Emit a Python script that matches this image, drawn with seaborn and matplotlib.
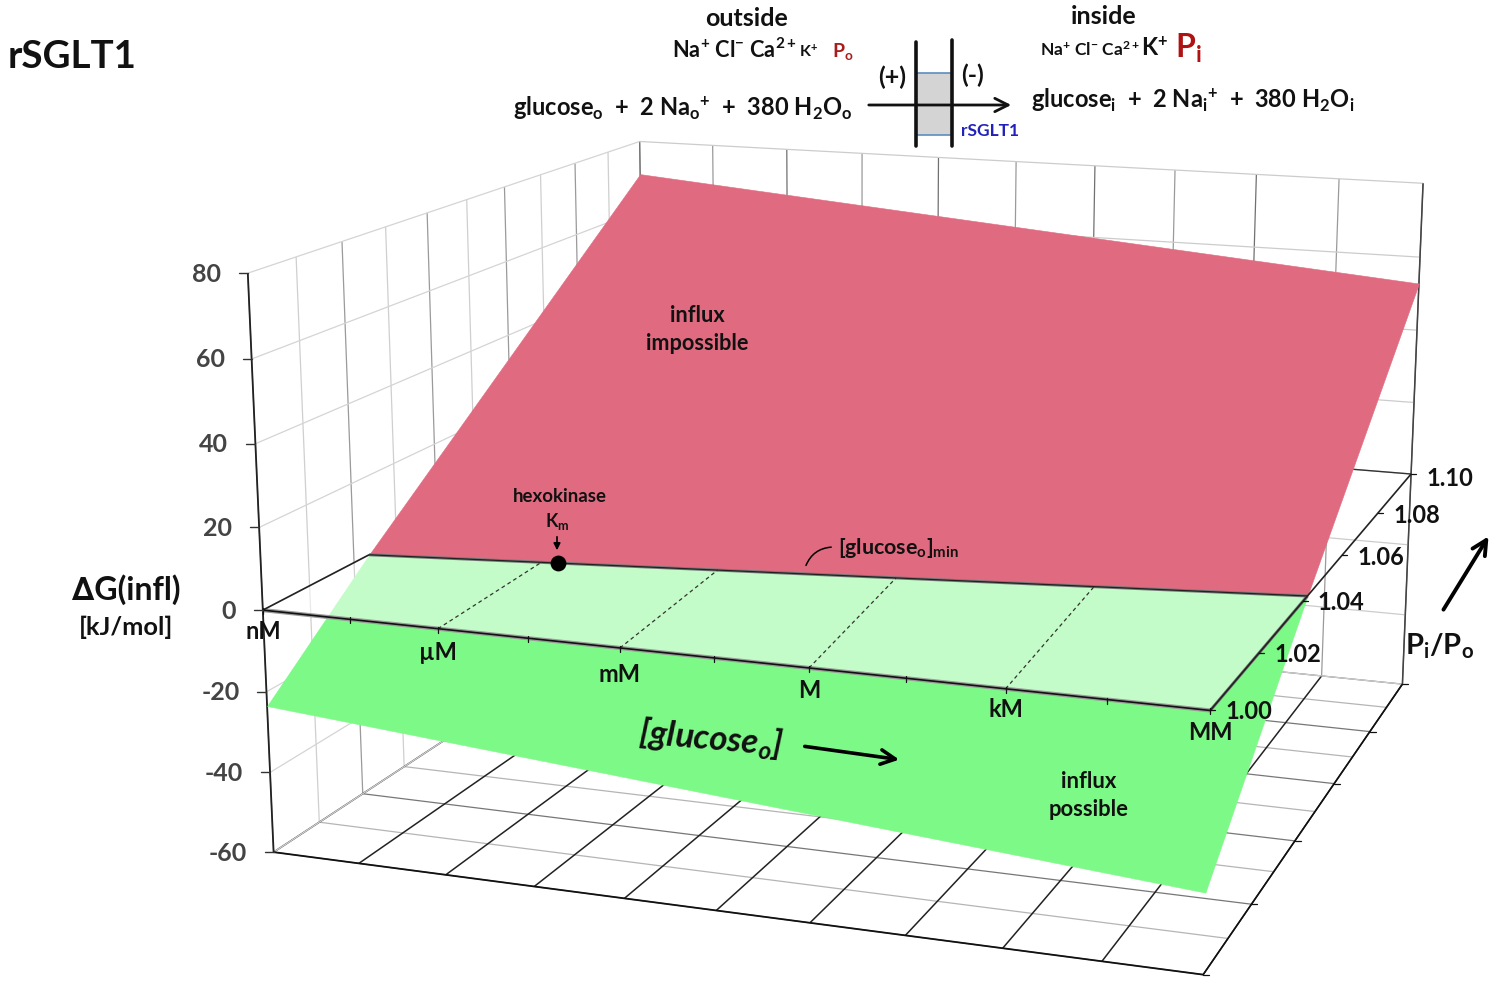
import numpy as np
import matplotlib
matplotlib.use("Agg")
import matplotlib.pyplot as plt
import seaborn as sns
from matplotlib.patches import FancyArrowPatch, Rectangle
from mpl_toolkits.mplot3d import proj3d

# ---- chart values
glucose_log = [-9.0, 6.0]
ratio_edges = [1.00, 1.10]
dG_low_ratio = [-23.5, -41.1]
dG_high_ratio = [70.5, 52.8]
ratio_at_zero = [1.0235, 1.0422]
x_grid = [-9, -7.5, -6, -4.5, -3, -1.5, 0, 1.5, 3, 4.5, 6]
y_grid = [1.00, 1.01, 1.02, 1.03, 1.04, 1.05, 1.06, 1.07, 1.08, 1.09, 1.10]
z_grid = [-60, -40, -20, 0, 20, 40, 60, 80]
x_label_pos = [-9, -6, -3, 0, 3, 6]
x_label_txt = ["nM", "µM", "mM", "M", "kM", "MM"]
y_label_pos = [1.00, 1.02, 1.04, 1.06, 1.08, 1.10]
y_label_txt = ["1.00", "1.02", "1.04", "1.06", "1.08", "1.10"]
guide_start_log = [-6, -3, 0, 3]
guide_end_log = [-6.15, -3.28, -0.42, 2.7]
km_log = -5.88

W, H = 1498, 986
sns.set_theme(style="white")
plt.rcParams["font.family"] = ["Lato", "DejaVu Sans"]
plt.rcParams.update({"mathtext.fontset": "custom", "mathtext.rm": "Lato:bold",
                     "mathtext.it": "Lato:italic:bold", "mathtext.bf": "Lato:bold",
                     "mathtext.default": "rm"})

fig = plt.figure(figsize=(W / 100, H / 100), dpi=100, facecolor="white")
ax = fig.add_axes([0, 0, 1, 1], projection="3d", computed_zorder=False)
ax.set_xlim(-9, 6); ax.set_ylim(1.0, 1.1); ax.set_zlim(-60, 80)
ax.set_xticks(x_grid); ax.set_yticks(y_grid); ax.set_zticks(z_grid)

# ---- camera
S, cx, cy = 7246.59, 881.18, 498.59
ax.view_init(14.1593, -70.5860, -0.1052)
ax.set_proj_type("persp", focal_length=0.46764)
ax.set_box_aspect((1, 0.9875, 0.6151))
xmin, xmax = ax.viewLim.intervalx
ymin, ymax = ax.viewLim.intervaly
ax.set_position([(cx + S * xmin) / W, ((H - cy) + S * ymin) / H,
                 S * (xmax - xmin) / W, S * (ymax - ymin) / H])
ax.set_axis_off()

# ---- walls
def line(xs, ys, zs, color, lw=0.9, z=1, **kw):
    ax.plot(xs, ys, zs, color=color, lw=lw, zorder=z, solid_capstyle="butt", **kw)

x0d, x1d = glucose_log
y0d, y1d = ratio_edges
zb, zt = z_grid[0], z_grid[-1]
for i, y in enumerate(y_grid):
    line([x0d, x0d], [y, y], [zb, zt], "#9a9a9a" if i % 2 == 0 else "#cfcfcf")
    line([x0d, x1d], [y, y], [zb, zb], "#777777" if i % 2 == 0 else "#b5b5b5")
for i, x in enumerate(x_grid):
    line([x, x], [y1d, y1d], [zb, zt], "#707070" if i % 2 == 0 else "#9a9a9a")
    line([x, x], [y0d, y1d], [zb, zb], "#222222", lw=1.1)
for zv in z_grid:
    line([x0d, x0d], [y0d, y1d], [zv, zv], "#d4d4d4")
    line([x0d, x1d], [y1d, y1d], [zv, zv], "#cccccc")
line([x0d, x1d], [y0d, y0d], [zb, zb], "#111111", lw=1.3)
line([x1d, x1d], [y0d, y1d], [zb, zb], "#111111", lw=1.1)
line([x1d, x1d], [y1d, y1d], [zb, zt], "#444444", lw=1.1)
line([x0d, x0d], [y0d, y0d], [zb, zt], "#222222", lw=1.3)
line([x0d, x1d], [y1d, y1d], [0, 0], "#333333", lw=1.0)

# ---- surfaces
Xs = np.array([glucose_log, glucose_log])
skw = dict(shade=False, linewidth=0.4)
ax.plot_surface(Xs, np.array([[y0d, y0d], ratio_at_zero]), np.array([dG_low_ratio, [0, 0]]),
                color="#7cf986", edgecolor="#7cf986", zorder=2, **skw)
ax.plot_surface(Xs, np.array([[y0d, y0d], ratio_at_zero]), np.zeros((2, 2)),
                color=(1, 1, 1, 0.55), edgecolor=(1, 1, 1, 0), zorder=3, shade=False, linewidth=0)
ax.plot_surface(Xs, np.array([ratio_at_zero, [y1d, y1d]]), np.array([[0, 0], dG_high_ratio]),
                color="#e06b80", edgecolor="#e06b80", zorder=4, **skw)

# ---- zero-plane outline, dashed guides, marker
line(glucose_log, [y0d, y0d], [0, 0], "#9a9a9a", lw=3, z=5)
line(glucose_log, [y0d, y0d], [0, 0], "#111111", lw=1.2, z=6)
line(glucose_log, ratio_at_zero, [0, 0], "#777777", lw=2.2, z=5)
line(glucose_log, ratio_at_zero, [0, 0], "#222222", lw=0.9, z=6)
line([x0d, x0d], [y0d, ratio_at_zero[0]], [0, 0], "#222222", lw=1.2, z=5)
line([x1d, x1d], [y0d, y1d], [0, 0], "#222222", lw=1.2, z=5)
line([x1d, x1d], [y0d, ratio_at_zero[1]], [0, 0], "#777777", lw=2.2, z=4.9)
for xs, xe in zip(guide_start_log, guide_end_log):
    yc = np.interp(xe, glucose_log, ratio_at_zero)
    ax.plot([xs, xe], [y0d, yc], [0, 0], color="#333333", lw=0.9, ls=(0, (3, 2.5)), zorder=5)
ax.scatter([km_log], [np.interp(km_log, glucose_log, ratio_at_zero)], [0], color="black", s=130,
           depthshade=False, zorder=8, linewidths=0)

def P(x, y, z):
    X, Y, _ = proj3d.proj_transform(x, y, z, ax.get_proj())
    return cx + S * X, cy - S * Y

# ---- overlay in pixel space for the annotation layer
ov = fig.add_axes([0, 0, 1, 1], facecolor="none")
ov.set_xlim(0, W); ov.set_ylim(H, 0); ov.axis("off")

def T(x, y, s, size, ha="center", va="center", color="#111111", **kw):
    return ov.text(x, y, s, fontsize=size, ha=ha, va=va, color=color, fontweight="bold", **kw)

for x in x_grid:
    px, py = P(x, y0d, 0)
    ov.plot([px, px], [py - 2, py + 4], color="#111111", lw=0.9)
for x, name, dy in zip(x_label_pos, x_label_txt, [21, 24, 27, 23, 21, 22]):
    px, py = P(x, y0d, 0)
    T(px, py + dy, name, 17)
for y, name, dy in zip(y_label_pos, y_label_txt, [1, 2, 1, 3, 3, 4]):
    px, py = P(x1d, y, 0)
    ov.plot([px, px + 5], [py, py], color="#111111", lw=0.9)
    T(px + 15, py + dy, name, 17, ha="left")
for y in y_label_pos:
    px, py = P(x1d, y, zb)
    ov.plot([px, px + 6], [py, py], color="#111111", lw=0.9)
for zv in z_grid:
    px, py = P(x0d, y0d, zv)
    ov.plot([px - 9, px], [py, py], color="#333333", lw=1)
    T(px - 27, py + 1, str(zv), 18, ha="right", color="#444444")

T(8, 57, "rSGLT1", 27.7, ha="left")
T(747, 18, "outside", 18)
T(1104, 16, "inside", 18)
T(672, 50, "Na$^{+}$ Cl$^{-}$ Ca$^{2+}$", 15.7, ha="left")
T(799, 52, "K$^{+}$", 11.5, ha="left")
T(832, 51, "P$_{o}$", 14, ha="left", color="#a81c1c")
T(1040, 50, "Na$^{+}$ Cl$^{-}$ Ca$^{2+}$", 12.5, ha="left")
T(1141, 48, "K$^{+}$", 17, ha="left")
T(1175, 48, "P$_{i}$", 23, ha="left", color="#b01212")
T(513, 116, "glucose$_{o}$  +  2 Na$_{o}$$^{+}$  +  380 H$_{2}$O$_{o}$", 17, ha="left", va="baseline")
T(1031, 108, "glucose$_{i}$  +  2 Na$_{i}$$^{+}$  +  380 H$_{2}$O$_{i}$", 17, ha="left", va="baseline")
T(892, 77, "(+)", 18); T(973, 75, "(-)", 18)
T(961, 131, "rSGLT1", 12.5, ha="left", color="#2222bb")
ov.add_patch(Rectangle((916, 73), 36, 62, facecolor="#d4d4d4", edgecolor="none"))
ov.plot([916, 952], [73, 73], color="#5b8cc0", lw=1.2)
ov.plot([916, 952], [135, 135], color="#5b8cc0", lw=1.2)
ov.plot([916, 916], [42, 146], color="#111111", lw=2.6)
ov.plot([952, 952], [40, 146], color="#111111", lw=2.6)
ov.annotate("", xy=(1014, 105), xytext=(866, 105), arrowprops=dict(arrowstyle="->", lw=2, color="#111111", mutation_scale=24))
T(126, 590, "∆G(infl)", 23)
T(126, 627, "[kJ/mol]", 18.3)
T(697, 316, "influx", 15.6); T(697, 343, "impossible", 15.6)
T(1089, 781, "influx", 15.8); T(1089, 809, "possible", 15.8)
T(560, 496, "hexokinase", 13.4)
T(557, 522, "K$_{m}$", 13)
ov.annotate("", xy=(557, 553), xytext=(557, 534), arrowprops=dict(arrowstyle="-|>", lw=1.2, color="black", mutation_scale=10))
T(838, 548, "[glucose$_{o}$]$_{min}$", 15.4, ha="left")
ov.add_patch(FancyArrowPatch((805, 568), (834, 547), connectionstyle="arc3,rad=-0.35", arrowstyle="-", lw=1.1, color="black"))
T(711, 738, r"[glucose$_{\mathit{o}}$]", 25, style="italic", rotation=-5)
ov.annotate("", xy=(902, 760), xytext=(802, 746), arrowprops=dict(arrowstyle="->", lw=2.6, color="black", mutation_scale=26))
T(1440, 646, "P$_{i}$/P$_{o}$", 21)
ov.annotate("", xy=(1490, 534), xytext=(1442, 612), arrowprops=dict(arrowstyle="->", lw=2.8, color="black", mutation_scale=26))

fig.savefig("out.png", dpi=100)
